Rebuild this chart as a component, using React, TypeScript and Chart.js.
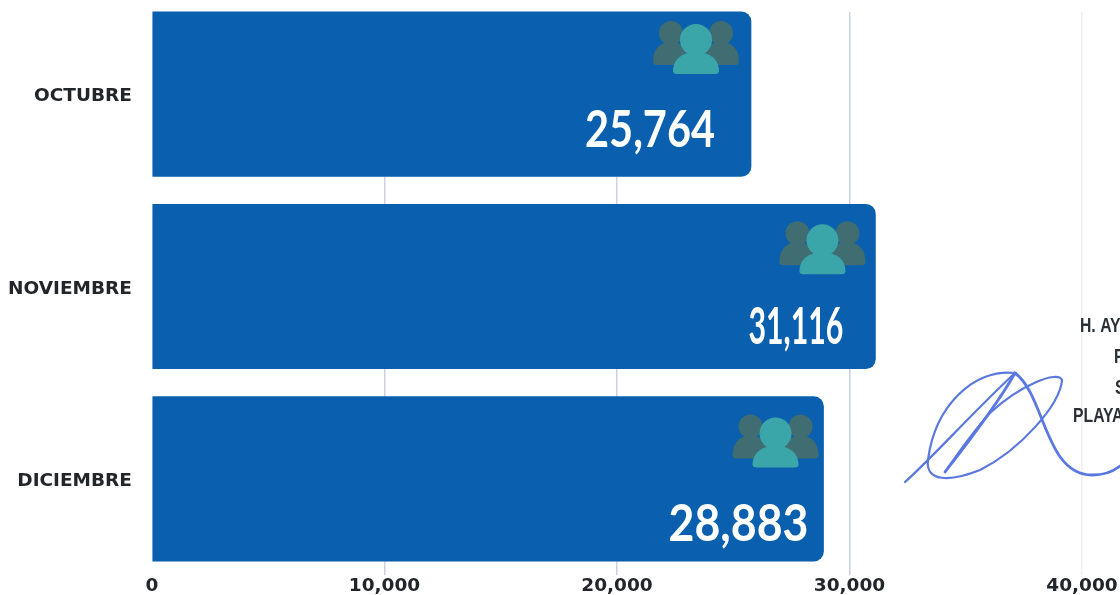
import React, { useEffect, useRef } from "react";
import { Chart, registerables } from "chart.js";

Chart.register(...registerables);

const months = ["OCTUBRE", "NOVIEMBRE", "DICIEMBRE"];
const visitors = [25764, 31116, 28883];
const axisTicks = [0, 10000, 20000, 30000, 40000];
const labelRightGap = [36, 32, 15];
const labelTopGap = [118, 123, 128];
const labelWidth = [130, 95, 140];
const iconRightGap = [55, 53, 48];
const iconDrop = [0, 8, 9];

const BAR = "#0a5fae";
const GRID = "#cdd0e6";
const FONT = '"DejaVu Sans", sans-serif';

const fmt = (v: number) => v.toLocaleString("en-US");

function person(ctx: CanvasRenderingContext2D, cx: number, headY: number, r: number, bw: number, bodyBottom: number, color: string) {
  ctx.fillStyle = color;
  ctx.beginPath();
  ctx.arc(cx, headY, r, 0, Math.PI * 2);
  ctx.fill();
  const shoulder = headY + r * 0.8;
  ctx.beginPath();
  ctx.moveTo(cx - bw, bodyBottom - 3);
  ctx.bezierCurveTo(cx - bw, shoulder + 8, cx - bw * 0.7, shoulder + 2, cx - r * 0.45, shoulder);
  ctx.lineTo(cx + r * 0.45, shoulder);
  ctx.bezierCurveTo(cx + bw * 0.7, shoulder + 2, cx + bw, shoulder + 8, cx + bw, bodyBottom - 3);
  ctx.quadraticCurveTo(cx + bw, bodyBottom, cx + bw - 4, bodyBottom);
  ctx.lineTo(cx - bw + 4, bodyBottom);
  ctx.quadraticCurveTo(cx - bw, bodyBottom, cx - bw, bodyBottom - 3);
  ctx.fill();
}

const maskPlugin = {
  id: "mask",
  beforeDatasetsDraw(chart: any) {
    const { ctx } = chart;
    ctx.save();
    ctx.fillStyle = "#ffffff";
    ctx.fillRect(0, 0, chart.width, 22);
    ctx.restore();
  },
};

const barDecor = {
  id: "barDecor",
  afterDatasetsDraw(chart: any) {
    const { ctx } = chart;
    chart.getDatasetMeta(0).data.forEach((bar: any, i: number) => {
      const end = bar.x;
      const top = bar.y - bar.height / 2;
      const cx = end - iconRightGap[i];
      const t = top + iconDrop[i];
      const dark = "#3f6d72";
      person(ctx, cx - 25, t + 21, 12, 18, t + 53, dark);
      person(ctx, cx + 25, t + 21, 12, 18, t + 53, dark);
      person(ctx, cx, t + 28, 16, 23, t + 62, "#3ba6a9");
      ctx.save();
      ctx.fillStyle = "#ffffff";
      ctx.font = "bold 52px Lato, sans-serif";
      ctx.textAlign = "right";
      ctx.textBaseline = "middle";
      ctx.fillText(fmt(visitors[i]), end - labelRightGap[i], top + labelTopGap[i], labelWidth[i]);
      ctx.restore();
    });
  },
};

const stampPlugin = {
  id: "stamp",
  afterDraw(chart: any) {
    const { ctx } = chart;
    const off = 10;
    ctx.save();
    ctx.translate(0, off);
    ctx.strokeStyle = "#5a78e0";
    ctx.lineCap = "round";
    ctx.lineWidth = 2.2;
    ctx.beginPath();
    ctx.moveTo(905, 482);
    ctx.bezierCurveTo(930, 460, 975, 410, 1015, 373);
    ctx.bezierCurveTo(975, 368, 935, 405, 928, 460);
    ctx.bezierCurveTo(925, 482, 950, 482, 980, 470);
    ctx.bezierCurveTo(1020, 450, 1060, 405, 1062, 380);
    ctx.bezierCurveTo(1058, 370, 1020, 385, 990, 413);
    ctx.bezierCurveTo(970, 435, 955, 458, 945, 472);
    ctx.stroke();
    ctx.lineWidth = 2.8;
    ctx.beginPath();
    ctx.moveTo(945, 472);
    ctx.bezierCurveTo(970, 440, 1000, 400, 1015, 373);
    ctx.bezierCurveTo(1045, 395, 1045, 475, 1092, 475);
    ctx.bezierCurveTo(1105, 475, 1115, 470, 1120, 466);
    ctx.stroke();
    ctx.fillStyle = "#2b3036";
    ctx.textBaseline = "middle";
    ctx.font = 'bold 21px "Liberation Sans Narrow", sans-serif';
    const stamps: [string, number, number][] = [["H. AY", 1080, 326], ["F", 1114, 357], ["S", 1115, 388], ["PLAYA", 1073, 416]];
    stamps.forEach(([t, x, y]) => {
      ctx.save();
      ctx.translate(x, y);
      ctx.scale(0.75, 1);
      ctx.fillText(t, 0, 0);
      ctx.restore();
    });
    ctx.restore();
  },
};

export default function App() {
  const ref = useRef<HTMLCanvasElement>(null);
  useEffect(() => {
    document.body.style.margin = "0";
    document.body.style.background = "#ffffff";
    document.body.style.overflow = "hidden";
    const chart = new Chart(ref.current!, {
      type: "bar",
      data: {
        labels: months,
        datasets: [
          {
            data: visitors,
            backgroundColor: BAR,
            barThickness: 164.5,
            borderRadius: { topRight: 10, bottomRight: 10, topLeft: 0, bottomLeft: 0 },
            borderSkipped: false,
          },
        ],
      },
      options: {
        indexAxis: "y",
        animation: false,
        responsive: false,
        maintainAspectRatio: false,
        layout: { padding: { top: 8, right: 38, left: 0, bottom: 0 } },
        plugins: { legend: { display: false }, tooltip: { enabled: false } },
        scales: {
          x: {
            min: axisTicks[0],
            max: axisTicks[axisTicks.length - 1],
            afterBuildTicks: (s: any) => {
              s.ticks = axisTicks.map((value) => ({ value }));
            },
            afterFit: (s: any) => {
              s.height = 30;
              s.paddingLeft = 0;
              s.paddingRight = 0;
            },
            border: { display: false },
            grid: {
              drawTicks: false,
              color: (c: any) => (c.tick.value === 0 ? "rgba(0,0,0,0)" : c.tick.value === 40000 ? "#eeeef6" : GRID),
              lineWidth: 1.5,
            },
            ticks: {
              padding: 0,
              maxRotation: 0,
              color: "#22262b",
              font: { family: FONT, weight: "bold", size: 18.5 },
              callback: (v: any) => fmt(Number(v)),
            },
          },
          y: {
            afterFit: (s: any) => {
              s.width = 152;
              s.paddingTop = 0;
              s.paddingBottom = 0;
            },
            border: { display: false },
            grid: { display: false, drawTicks: false },
            ticks: {
              padding: 20,
              color: "#22262b",
              font: { family: FONT, weight: "bold", size: 18.5, lineHeight: 0.25 },
              callback: (_v: any, i: number) => ["", months[i]],
            },
          },
        },
      },
      plugins: [maskPlugin, barDecor, stampPlugin],
    } as any);
    return () => chart.destroy();
  }, []);
  return <canvas ref={ref} width={1120} height={615} style={{ position: "fixed", left: 0, top: -10 }} />;
}
